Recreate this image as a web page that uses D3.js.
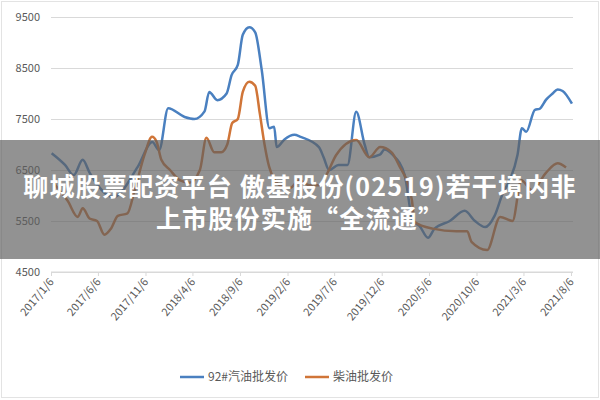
<!DOCTYPE html>
<html><head><meta charset="utf-8">
<script src="https://cdn.jsdelivr.net/npm/d3@7"></script>
<style>body{margin:0;background:#fff}svg{display:block}</style>
</head><body><svg id="c" width="600" height="400"></svg>
<script>
const gasDates=["2017-01-08","2017-02-20","2017-03-20","2017-04-18","2017-05-10","2017-07-25","2017-10-12","2017-11-28","2017-12-20","2018-01-18","2018-03-12","2018-04-12","2018-05-15","2018-05-30","2018-06-25","2018-07-25","2018-08-10","2018-08-30","2018-09-15","2018-10-06","2018-10-25","2018-11-15","2018-12-10","2018-12-25","2019-01-02","2019-01-27","2019-02-28","2019-03-20","2019-05-18","2019-06-02","2019-06-20","2019-07-20","2019-08-18","2019-09-15","2019-10-12","2019-10-27","2019-11-30","2019-12-15","2020-01-10","2020-02-18","2020-03-15","2020-04-06","2020-05-03","2020-05-24","2020-07-12","2020-08-29","2020-10-01","2020-11-03","2020-12-03","2020-12-30","2021-01-21","2021-02-15","2021-03-01","2021-03-15","2021-04-12","2021-04-27","2021-05-18","2021-06-08","2021-06-24","2021-07-10","2021-08-09"];
const gasValues=[6830,6600,6400,6700,6450,5970,6560,7050,6890,7710,7540,7500,7650,8030,7870,8000,8360,8560,9150,9300,9200,8460,7320,7350,6950,7100,7190,7150,6950,6750,6500,6600,6600,7640,7000,6750,6800,6900,6800,6400,5500,5400,5170,5350,5500,5700,5500,5380,5600,6050,6300,6800,7320,7250,7680,7700,7880,8000,8080,8050,7800];
const dieselDates=["2017-01-08","2017-02-06","2017-02-28","2017-04-02","2017-04-18","2017-05-10","2017-06-03","2017-06-27","2017-07-18","2017-08-09","2017-09-09","2017-10-02","2017-11-03","2017-11-27","2017-12-12","2017-12-27","2018-01-24","2018-02-24","2018-03-27","2018-04-30","2018-05-21","2018-06-15","2018-07-08","2018-07-27","2018-08-12","2018-08-30","2018-09-15","2018-10-06","2018-10-25","2018-11-09","2018-11-24","2018-12-09","2019-01-12","2019-02-15","2019-03-15","2019-04-18","2019-05-18","2019-06-15","2019-07-12","2019-09-15","2019-10-27","2019-12-01","2020-01-06","2020-01-30","2020-03-12","2020-03-21","2020-05-18","2020-08-02","2020-09-06","2020-09-20","2020-11-09","2020-12-21","2021-01-30","2021-02-27","2021-04-03","2021-05-18","2021-06-24","2021-07-21"];
const dieselValues=[6300,6070,5900,5580,5750,5550,5500,5230,5350,5600,5650,6100,6800,7150,7050,6700,6500,6300,6250,6500,7130,6850,6850,7000,7420,7500,8030,8230,8150,7600,7000,6560,6200,6150,6300,6200,6200,6450,6790,7090,6750,6950,6850,6600,5910,5480,5350,5300,5300,5090,4930,5580,5500,6300,6100,6450,6630,6550];
const tickLabels=["2017/1/6","2017/6/6","2017/11/6","2018/4/6","2018/9/6","2019/2/6","2019/7/6","2019/12/6","2020/5/6","2020/10/6","2021/3/6","2021/8/6"];
const yTicks=[4500,5500,6500,7500,8500,9500];
const seriesNames=["92#汽油批发价","柴油批发价"];
const titleLines=["聊城股票配资平台 傲基股份(02519)若干境内非","上市股份实施“全流通”"];

const svg=d3.select("#c");
const P=d3.timeParse("%Y-%m-%d"), T=d3.timeParse("%Y/%m/%d");
const x=d3.scaleTime().domain([T("2017/1/6"),T("2021/8/6")]).range([51,571]);
const y=d3.scaleLinear().domain([4500,9500]).range([272,17]);
svg.append("rect").attr("x",1.5).attr("y",1.5).attr("width",597).attr("height",396).attr("fill","#fff").attr("stroke","#e3e3e3");
const font="'Noto Sans CJK SC','Noto Sans',sans-serif";
const yg=svg.append("g").attr("transform","translate(51,0)").call(d3.axisLeft(y).tickValues(yTicks).tickSize(-522).tickFormat(d3.format("d")));
yg.select(".domain").remove();
yg.selectAll("line").attr("stroke","#d9d9d9");
yg.selectAll("text").attr("x",-11).attr("font-family",font).attr("font-size",11).attr("fill","#595959");
const xg=svg.append("g").attr("transform","translate(0,272)").call(d3.axisBottom(x).tickValues(tickLabels.map(T)).tickSize(4).tickFormat((d,i)=>tickLabels[i]));
xg.select(".domain").attr("d","M51,0H573").attr("stroke","#d9d9d9");
xg.selectAll("line").attr("stroke","#d9d9d9");
xg.selectAll("text").attr("font-family",font).attr("font-size",11).attr("fill","#595959")
  .attr("text-anchor","end").attr("dx",0).attr("dy",0).attr("y",0).attr("x",0).attr("transform","translate(3,10) rotate(-50)");
const line=d3.line().x(d=>x(d[0])).y(d=>y(d[1])).curve(d3.curveMonotoneX);
const colors=["#4a80c0","#d07538"];
[[gasDates,gasValues],[dieselDates,dieselValues]].forEach(([ds,vs],k)=>{
  svg.append("path").datum(ds.map((d,i)=>[P(d),vs[i]])).attr("d",line).attr("fill","none").attr("stroke",colors[k]).attr("stroke-width",2.5).attr("stroke-linejoin","round");
});
const lx=[180,305];
seriesNames.forEach((n,i)=>{
  svg.append("line").attr("x1",lx[i]).attr("x2",lx[i]+24).attr("y1",377).attr("y2",377).attr("stroke",colors[i]).attr("stroke-width",2.5);
  svg.append("text").attr("x",lx[i]+28).attr("y",381).attr("font-family",font).attr("font-size",12).attr("fill","#595959").text(n);
});
svg.append("rect").attr("x",0).attr("y",140).attr("width",600).attr("height",119).attr("fill","rgba(95,95,95,0.68)");
titleLines.forEach((t,i)=>{
  svg.append("text").attr("x",300).attr("y",196+i*32).attr("text-anchor","middle").attr("font-family",font).attr("font-weight","bold").attr("font-size",25).attr("letter-spacing",1.2).attr("fill","#fff").text(t);
});
</script></body></html>
